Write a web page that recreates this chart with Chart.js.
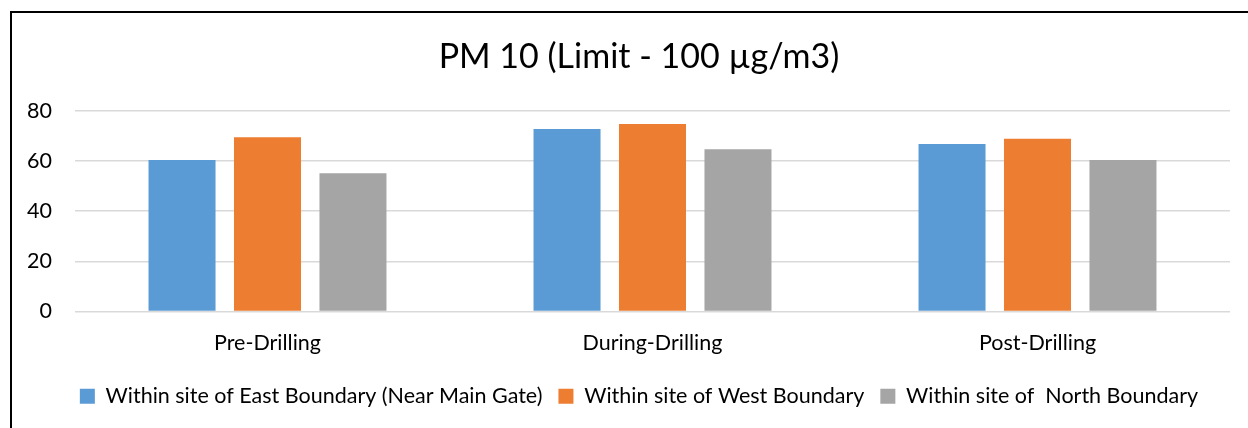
<!DOCTYPE html>
<html>
<head>
<meta charset="utf-8">
<script src="https://cdn.jsdelivr.net/npm/chart.js@4"></script>
<style>
    html, body { margin: 0; padding: 0; background: #fff; }
    #wrap { position: relative; width: 1248px; height: 428px; overflow: hidden; }
    #frame {
        position: absolute; left: 10px; top: 11px; width: 1300px; height: 500px;
        border-left: 2px solid #000; border-top: 2px solid #000; pointer-events: none;
    }
</style>
</head>
<body>
<div id="wrap">
    <canvas id="pmChart" width="1248" height="428"></canvas>
    <div id="frame"></div>
</div>
<script>
// ================= DATA =================
const stages = ["Pre-Drilling", "During-Drilling", "Post-Drilling"];
const eastBoundary = [60.4, 72.7, 66.8];
const westBoundary = [69.5, 74.7, 68.9];
const northBoundary = [55.1, 64.7, 60.4];
const seriesNames = [
    "Within site of East Boundary (Near Main Gate)",
    "Within site of West Boundary",
    "Within site of  North Boundary"
];
const yTicks = [0, 20, 40, 60, 80];

const FONT = "Lato, 'Open Sans', sans-serif";

// y labels sit left of the padded area, so widen the axis box to stop clipping
const unclipY = {
    id: "unclipY",
    afterLayout(chart) { chart.scales.y.left = 0; }
};

new Chart(document.getElementById("pmChart"), {
    type: "bar",
    data: {
        labels: stages,
        datasets: [
            { label: seriesNames[0], data: eastBoundary, backgroundColor: "#5B9BD5" },
            { label: seriesNames[1], data: westBoundary, backgroundColor: "#ED7D31" },
            { label: seriesNames[2], data: northBoundary, backgroundColor: "#A5A5A5" }
        ]
    },
    plugins: [unclipY],
    options: {
        responsive: false,
        animation: false,
        devicePixelRatio: 1,
        categoryPercentage: 0.666,
        barPercentage: 0.784,
        // left padding centres title + legend like the original frame
        layout: { padding: { top: 20, right: 18, left: 48, bottom: 11 } },
        plugins: {
            title: {
                display: true,
                text: "PM 10 (Limit - 100 µg/m3)",
                color: "#000",
                font: { family: FONT, size: 34, weight: "normal" },
                padding: { top: 17, bottom: 33 }
            },
            legend: {
                position: "bottom",
                labels: {
                    color: "#000",
                    font: { family: FONT, size: 21.5 },
                    boxWidth: 15,
                    boxHeight: 15,
                    padding: 16
                }
            },
            tooltip: { enabled: false }
        },
        scales: {
            x: {
                grid: { display: false, drawTicks: false },
                border: { display: false },
                ticks: { color: "#000", font: { family: FONT, size: 21.5 }, padding: 19 },
                afterFit: s => { s.height = 58; }
            },
            y: {
                min: 0,
                max: 80,
                afterBuildTicks: s => { s.ticks = yTicks.map(v => ({ value: v })); },
                grid: { color: "#D9D9D9", lineWidth: 1.5, drawTicks: false },
                border: { display: false },
                ticks: { color: "#000", font: { family: FONT, size: 21.5 }, padding: 23 },
                afterFit: s => { s.width = 27; }
            }
        }
    }
});
</script>
</body>
</html>
